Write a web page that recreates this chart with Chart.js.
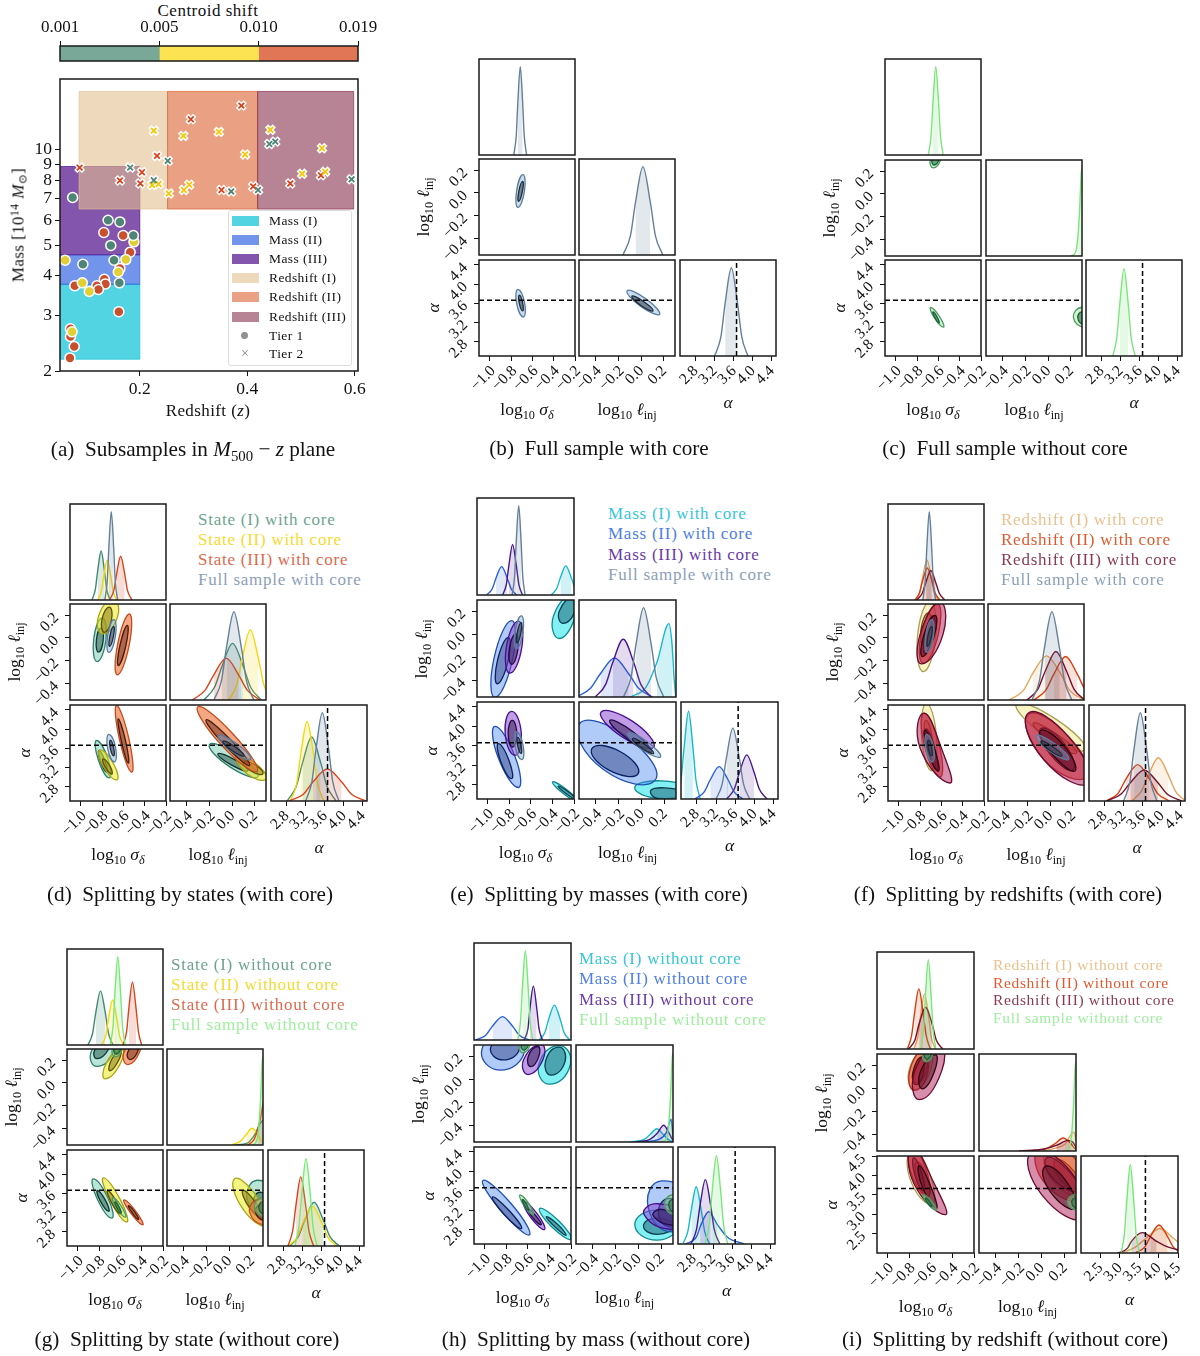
<!DOCTYPE html>
<html>
<head>
<meta charset="utf-8">
<script src="https://cdn.jsdelivr.net/npm/chart.js@4"></script>
<style>
body{margin:0;background:#fff;width:1200px;height:1356px;position:relative;overflow:hidden;font-family:'Liberation Serif','DejaVu Serif',serif;color:#111}
canvas{position:absolute}
.t{position:absolute;white-space:nowrap;line-height:1}
.t sub{font-size:70%;vertical-align:-.28em;line-height:0}
.t sup{font-size:70%;vertical-align:.4em;line-height:0}
</style>
</head>
<body>
<script>
// colour bar
var centroidLabels = ['0.001','0.005','0.010','0.019'];
var centroidBins = [[0,1],[1,2],[2,3]];
var centroidColors = ['#7aa898','#fce352','#e07656'];

// subsamples in the M500 - z plane, flat z,M lists
var massTicks = [2,3,4,5,6,7,8,9,10];
var zTicks = [0.2,0.4,0.6];
var bandMass1 = [0.04,0.2,2.18,3.76];
var bandMass2 = [0.04,0.2,3.76,4.66];
var bandMass3 = [0.04,0.2,4.66,8.86];
var bandZ1 = [0.087,0.2516,6.5,15.3];
var bandZ2 = [0.2516,0.4193,6.5,15.3];
var bandZ3 = [0.4193,0.598,6.5,15.3];
var tier1Green = [.075,7.07,.141,5.99,.163,5.92,.188,5.36,.146,4.99,.152,4.48,.094,4.35,.162,3.8];
var tier1Yellow = [.189,5.12,.061,4.48,.174,4.5,.16,4.11,.093,3.8,.106,3.57,.074,2.66];
var tier1Red = [.133,5.48,.169,5.36,.182,4.75,.163,4.22,.134,3.9,.136,3.77,.12,3.72,.079,3.72,.123,3.62,.161,3.08,.071,2.72,.071,2.57,.078,2.39,.07,2.2];
var tier2Green = [.441,10.44,.452,10.62,.252,9.23,.182,8.79,.226,8.02,.594,8.07,.37,7.39,.42,7.47];
var tier2Yellow = [.226,11.5,.347,11.4,.281,11.07,.443,11.57,.396,9.67,.539,10.12,.502,8.4,.545,8.53,.235,7.8,.223,7.74,.292,7.76,.282,7.47,.254,7.28];
var tier2Red = [.389,13.8,.295,12.5,.232,9.57,.088,8.79,.204,8.5,.537,8.31,.163,8,.201,7.83,.48,7.83,.352,7.47,.411,7.66];

// corner axes
var sigTicks = [-1,-.8,-.6,-.4,-.2];
var ellTicks = [-.4,-.2,0,.2];
var alphaTicks = [2.8,3.2,3.6,4,4.4];
var alphaTicksWide = [2.5,3,3.5,4,4.5];
var sigRange = [-1.102,-.2];
var ellRange = [-.547,.297];
var alphaRangeX = [2.47,4.49];
var alphaRangeY = [2.5,4.5];
var alphaRangeWide = [2,4.5];
var alphaTrue = [3.66];

// 1D curves: x,height; contours: four points around the loop (2 = outer, 1 = inner)
var coreFull_sig = [-.775,0,-.752,.2,-.737,.55,-.714,.92,-.692,.55,-.677,.2,-.655,0];
var coreFull_ell = [-.16,0,-.095,.2,-.05,.55,.015,.92,.08,.55,.125,.2,.19,0];
var coreFull_alp = [3.2,0,3.33,.2,3.42,.55,3.55,.92,3.68,.55,3.77,.2,3.9,0];
var coreFull_se2 = [-.689,.159,-.675,.015,-.736,-.129,-.749,.015];
var coreFull_se1 = [-.692,.1,-.694,.012,-.73,-.076,-.728,.012];
var coreFull_sa2 = [-.736,3.887,-.673,3.6,-.686,3.313,-.749,3.6];
var coreFull_sa1 = [-.723,3.77,-.692,3.605,-.692,3.44,-.724,3.605];
var coreFull_ea2 = [-.124,3.859,.041,3.691,.162,3.369,-.006,3.537];
var coreFull_ea1 = [-.082,3.747,.02,3.635,.103,3.439,-.003,3.551];

var coreState1_sig = [-.895,0,-.864,.11,-.841,.31,-.81,.51,-.779,.31,-.757,.11,-.725,0];
var coreState1_ell = [-.25,0,-.157,.13,-.09,.35,.003,.59,.097,.35,.163,.13,.257,0];
var coreState1_alp = [2.81,0,3,.15,3.135,.4,3.325,.667,3.515,.4,3.65,.15,3.84,0];
var coreState1_se2 = [-.8,.174,-.764,-.017,-.847,-.209,-.88,-.017];
var coreState1_se1 = [-.81,.085,-.79,-.02,-.835,-.126,-.854,-.02];
var coreState1_sa2 = [-.852,3.76,-.745,3.37,-.733,2.98,-.838,3.37];
var coreState1_sa1 = [-.83,3.55,-.771,3.325,-.757,3.1,-.815,3.325];
var coreState1_ea2 = [-.2,3.677,.047,3.468,.226,3.01,-.024,3.217];
var coreState1_ea1 = [-.126,3.48,.02,3.363,.138,3.133,-.009,3.252];

var coreState2_sig = [-.84,0,-.808,.09,-.785,.25,-.752,.418,-.719,.25,-.696,.09,-.664,0];
var coreState2_ell = [-.03,0,.04,.16,.089,.44,.159,.73,.229,.44,.278,.16,.35,0];
var coreState2_alp = [2.88,0,3.01,.18,3.1,.5,3.228,.825,3.36,.5,3.45,.18,3.58,0];
var coreState2_se2 = [-.695,.336,-.655,.186,-.796,.035,-.835,.186];
var coreState2_se1 = [-.733,.27,-.712,.16,-.78,.047,-.802,.16];
var coreState2_sa2 = [-.82,3.565,-.687,3.25,-.664,2.94,-.797,3.25];
var coreState2_sa1 = [-.79,3.377,-.725,3.22,-.71,3.063,-.775,3.22];
var coreState2_ea2 = [.035,3.48,.206,3.28,.3,2.96,.129,3.07];
var coreState2_ea1 = [.094,3.31,.197,3.26,.27,3.07,.168,3.12];

var coreState3_sig = [-.73,0,-.69,.1,-.664,.27,-.626,.456,-.588,.27,-.562,.1,-.52,0];
var coreState3_ell = [-.35,0,-.24,.1,-.163,.26,-.053,.436,.057,.26,.134,.1,.244,0];
var coreState3_alp = [2.85,0,3.15,.07,3.355,.2,3.655,.333,3.955,.2,4.165,.07,4.465,0];
var coreState3_se2 = [-.544,.209,-.545,-.06,-.657,-.326,-.655,-.06];
var coreState3_se1 = [-.563,.109,-.577,-.068,-.648,-.244,-.633,-.068];
var coreState3_sa2 = [-.664,4.49,-.548,3.79,-.522,3.1,-.638,3.79];
var coreState3_sa1 = [-.648,4.21,-.58,3.75,-.553,3.29,-.62,3.75];
var coreState3_ea2 = [-.303,4.46,.009,3.89,.218,3.12,-.097,3.67];
var coreState3_ea1 = [-.23,4.19,-.012,3.77,.153,3.24,-.065,3.66];

var coreMass1_sig = [-.41,0,-.36,.07,-.326,.18,-.276,.3,-.226,.18,-.19,.07,-.14,0];
var coreMass1_ell = [-.097,0,.035,.1,.132,.36,.235,.756,.262,.55,.28,.2,.295,0];
var coreMass1_alp = [2.38,0,2.47,.25,2.537,.68,2.627,1.14,2.717,.68,2.78,.25,2.87,0];
var coreMass1_se2 = [-.192,.357,-.185,.16,-.337,-.038,-.39,.16];
var coreMass1_se1 = [-.2,.33,-.19,.2,-.3,.094,-.337,.2];
var coreMass1_sa2 = [-.4,2.853,-.266,2.69,-.161,2.44,-.297,2.607];
var coreMass1_sa1 = [-.347,2.764,-.254,2.648,-.176,2.49,-.272,2.607];
var coreMass1_ea2 = [-.062,2.73,.168,2.874,.43,2.68,.168,2.51];
var coreMass1_ea1 = [.074,2.648,.2,2.73,.37,2.61,.2,2.47];

var coreMass2_sig = [-1.013,0,-.96,.064,-.925,.176,-.873,.293,-.821,.176,-.785,.064,-.733,0];
var coreMass2_ell = [-.57,0,-.447,.09,-.361,.24,-.238,.402,-.115,.24,-.029,.09,.094,0];
var coreMass2_alp = [2.76,0,2.95,.09,3.08,.25,3.264,.42,3.45,.25,3.58,.09,3.76,0];
var coreMass2_se2 = [-.78,.117,-.77,-.216,-.935,-.55,-.945,-.216];
var coreMass2_se1 = [-.811,-.029,-.812,-.231,-.913,-.433,-.912,-.231];
var coreMass2_sa2 = [-.935,3.997,-.747,3.367,-.718,2.737,-.907,3.367];
var coreMass2_sa1 = [-.904,3.64,-.802,3.28,-.78,2.92,-.882,3.28];
var coreMass2_ea2 = [-.544,4.05,-.12,3.76,.115,2.888,-.34,3.12];
var coreMass2_ea1 = [-.435,3.54,-.19,3.48,-.032,3.025,-.29,3.1];

var coreMass3_sig = [-.863,0,-.829,.11,-.805,.31,-.771,.52,-.737,.31,-.713,.11,-.679,0];
var coreMass3_ell = [-.405,0,-.315,.13,-.252,.36,-.162,.595,-.072,.36,-.009,.13,.081,0];
var coreMass3_alp = [3.42,0,3.58,.13,3.685,.34,3.84,.573,3.995,.34,4.1,.13,4.26,0];
var coreMass3_se2 = [-.718,.114,-.685,-.113,-.796,-.34,-.829,-.113];
var coreMass3_se1 = [-.743,0,-.722,-.13,-.78,-.263,-.802,-.13];
var coreMass3_sa2 = [-.78,4.305,-.69,3.85,-.749,3.4,-.84,3.85];
var coreMass3_sa1 = [-.774,4.12,-.732,3.845,-.77,3.57,-.812,3.845];
var coreMass3_ea2 = [-.356,4.29,-.08,4.1,.103,3.57,-.174,3.785];
var coreMass3_ea1 = [-.279,4.12,-.08,3.89,.085,3.47,-.126,3.737];

var coreZ1_sig = [-.84,0,-.8,.09,-.774,.25,-.736,.418,-.698,.25,-.672,.09,-.63,0];
var coreZ1_ell = [-.36,0,-.236,.1,-.152,.28,-.032,.46,.088,.28,.172,.1,.296,0];
var coreZ1_alp = [3.37,0,3.57,.1,3.72,.27,3.93,.45,4.14,.27,4.29,.1,4.5,0];
var coreZ1_se2 = [-.708,.32,-.655,.01,-.77,-.297,-.825,.01];
var coreZ1_se1 = [-.723,.218,-.693,.07,-.764,-.076,-.793,.07];
var coreZ1_sa2 = [-.74,4.53,-.646,3.83,-.692,3.13,-.786,3.83];
var coreZ1_sa1 = [-.745,4.18,-.683,3.76,-.692,3.34,-.753,3.76];
var coreZ1_ea2 = [-.297,4.52,.053,4.2,.306,3.57,-.047,3.87];
var coreZ1_ea1 = [-.15,4.12,.065,3.88,.232,3.5,.018,3.71];

var coreZ2_sig = [-.85,0,-.808,.07,-.777,.2,-.733,.334,-.689,.2,-.658,.07,-.614,0];
var coreZ2_ell = [-.145,0,-.04,.1,.032,.27,.135,.453,.238,.27,.31,.1,.415,0];
var coreZ2_alp = [2.83,0,3.08,.08,3.25,.23,3.495,.379,3.74,.23,3.91,.08,4.16,0];
var coreZ2_se2 = [-.64,.3,-.628,.035,-.77,-.224,-.788,.035];
var coreZ2_se1 = [-.676,.194,-.675,.027,-.755,-.141,-.755,.027];
var coreZ2_sa2 = [-.764,4.33,-.62,3.66,-.613,3,-.76,3.66];
var coreZ2_sa1 = [-.745,4,-.66,3.58,-.645,3.15,-.73,3.58];
var coreZ2_ea2 = [-.194,4.3,.162,3.84,.32,3,-.05,3.35];
var coreZ2_ea1 = [-.085,4,.112,3.73,.203,3.15,0,3.47];

var coreZ3_sig = [-.83,0,-.78,.07,-.747,.18,-.7,.307,-.653,.18,-.62,.07,-.57,0];
var coreZ3_ell = [-.205,0,-.11,.11,-.044,.3,.05,.505,.144,.3,.21,.11,.305,0];
var coreZ3_alp = [2.84,0,3.14,.07,3.34,.19,3.63,.323,3.92,.19,4.12,.07,4.42,0];
var coreZ3_se2 = [-.613,.31,-.585,.03,-.786,-.23,-.8,.03];
var coreZ3_se1 = [-.66,.197,-.668,.016,-.777,-.165,-.768,.016];
var coreZ3_sa2 = [-.764,4.33,-.6,3.6,-.52,2.875,-.8,3.6];
var coreZ3_sa1 = [-.755,3.97,-.658,3.54,-.63,3.12,-.728,3.54];
var coreZ3_ea2 = [-.194,4.33,.168,3.82,.33,2.87,-.056,3.36];
var coreZ3_ea1 = [-.085,3.97,.115,3.67,.218,3.13,.015,3.48];

var noFull_sig = [-.695,0,-.669,.2,-.651,.55,-.625,.92,-.599,.55,-.581,.2,-.555,0];
var noFull_ell = [.2,0,.24,.04,.258,.16,.275,.46,.29,.86,.297,.92,.32,1.2];
var noFull_alp = [3.035,0,3.12,.2,3.183,.55,3.27,.91,3.357,.55,3.418,.2,3.505,0];
var noFull_se2 = [-.6,.37,-.58,.3,-.648,.228,-.675,.3];
var noFull_se1 = [-.608,.34,-.595,.3,-.64,.253,-.66,.3];
var noFull_sa2 = [-.673,3.51,-.585,3.305,-.553,3.1,-.641,3.305];
var noFull_sa1 = [-.651,3.418,-.61,3.303,-.594,3.188,-.634,3.303];
var noFull_ea2 = [.295,3.51,.37,3.3,.32,3.1,.222,3.3];
var noFull_ea1 = [.297,3.42,.34,3.29,.31,3.16,.26,3.3];

var noState1_sig = [-.905,0,-.862,.12,-.831,.34,-.787,.564,-.743,.34,-.712,.12,-.67,0];
var noState1_ell = [.05,0,.16,.02,.22,.1,.27,.22,.3,.26,.31,.26,.36,.1];
var noState1_alp = [2.93,0,3.11,.1,3.245,.27,3.44,.456,3.635,.27,3.77,.1,3.97,0];
var noState1_se2 = [-.713,.4,-.665,.27,-.822,.144,-.875,.27];
var noState1_se1 = [-.73,.365,-.715,.29,-.822,.212,-.84,.29];
var noState1_sa2 = [-.855,3.9,-.715,3.49,-.68,3.08,-.82,3.49];
var noState1_sa1 = [-.817,3.656,-.738,3.44,-.71,3.22,-.79,3.44];
var noState1_ea2 = [.25,3.87,.44,3.45,.35,3.05,.16,3.45];
var noState1_ea1 = [.27,3.62,.37,3.4,.33,3.15,.22,3.4];

var noState2_sig = [-.775,0,-.737,.1,-.711,.28,-.673,.47,-.635,.28,-.609,.1,-.57,0];
var noState2_ell = [.02,0,.1,.04,.15,.11,.2,.174,.25,.11,.285,.04,.34,0];
var noState2_alp = [2.9,0,3.08,.09,3.215,.25,3.405,.414,3.595,.25,3.73,.09,3.91,0];
var noState2_se2 = [-.59,.31,-.6,.17,-.745,.035,-.735,.17];
var noState2_se1 = [-.6,.29,-.615,.2,-.7,.106,-.685,.2];
var noState2_sa2 = [-.76,3.92,-.6,3.46,-.54,3,-.7,3.46];
var noState2_sa1 = [-.72,3.656,-.635,3.41,-.6,3.17,-.685,3.41];
var noState2_ea2 = [.047,3.9,.253,3.5,.326,2.93,.118,3.28];
var noState2_ea1 = [.12,3.656,.238,3.39,.297,3.07,.18,3.29];

var noState3_sig = [-.575,0,-.542,.14,-.52,.39,-.487,.655,-.454,.39,-.431,.14,-.4,0];
var noState3_ell = [.16,0,.215,.05,.25,.16,.275,.28,.291,.39,.31,.5,.34,.7];
var noState3_alp = [2.89,0,2.99,.16,3.06,.43,3.16,.72,3.26,.43,3.33,.16,3.43,0];
var noState3_se2 = [-.43,.38,-.42,.27,-.53,.16,-.566,.27];
var noState3_se1 = [-.44,.35,-.44,.27,-.51,.203,-.53,.27];
var noState3_sa2 = [-.566,3.46,-.448,3.2,-.39,2.94,-.508,3.2];
var noState3_sa1 = [-.525,3.34,-.463,3.2,-.43,3.05,-.493,3.2];
var noState3_ea2 = [.268,3.47,.43,3.2,.33,2.94,.18,3.2];
var noState3_ea1 = [.28,3.36,.38,3.2,.32,3.03,.232,3.2];

var noMass1_sig = [-.495,0,-.442,.08,-.406,.22,-.354,.36,-.302,.22,-.266,.08,-.213,0];
var noMass1_ell = [-.08,0,.05,.03,.1,.08,.156,.137,.21,.08,.25,.03,.3,0];
var noMass1_alp = [2.57,0,2.675,.13,2.747,.35,2.85,.59,2.953,.35,3.025,.13,3.13,0];
var noMass1_se2 = [-.308,.292,-.206,.125,-.4,-.044,-.5,.125];
var noMass1_se1 = [-.31,.278,-.255,.156,-.385,.035,-.437,.156];
var noMass1_sa2 = [-.492,3.23,-.317,2.985,-.2,2.6,-.378,2.85];
var noMass1_sa1 = [-.43,3.06,-.323,2.9,-.246,2.68,-.348,2.85];
var noMass1_ea2 = [.156,3.2,.34,2.9,.156,2.58,-.035,2.9];
var noMass1_ea1 = [.16,3.04,.3,2.87,.16,2.7,.04,2.87];

var noMass2_sig = [-1.085,0,-.993,.05,-.929,.145,-.837,.241,-.745,.145,-.681,.05,-.589,0];
var noMass2_ell = [.02,0,.18,.03,.24,.1,.28,.234,.29,.15,.3,.03,.31,0];
var noMass2_alp = [2.62,0,2.85,.07,2.95,.2,3.11,.332,3.29,.2,3.5,.07,3.85,0];
var noMass2_se2 = [-.79,.42,-.63,.25,-.862,.079,-1.03,.25];
var noMass2_se1 = [-.78,.37,-.677,.27,-.83,.167,-.948,.27];
var noMass2_sa2 = [-1.02,3.81,-.76,3.34,-.585,2.69,-.846,3.175];
var noMass2_sa1 = [-.93,3.47,-.78,3.2,-.66,2.82,-.82,3.1];
var noMass2_ea2 = [.2,3.8,.5,3.3,.3,2.75,.082,3.25];
var noMass2_ea1 = [.27,3.44,.42,3.15,.28,2.85,.17,3.15];

var noMass3_sig = [-.635,0,-.6,.12,-.581,.33,-.55,.555,-.519,.33,-.498,.12,-.465,0];
var noMass3_ell = [-.03,0,.1,.03,.16,.09,.215,.172,.26,.1,.29,.03,.33,0];
var noMass3_alp = [2.74,0,2.855,.15,2.93,.4,3.04,.664,3.15,.4,3.225,.15,3.34,0];
var noMass3_se2 = [-.477,.3,-.46,.17,-.6,.04,-.64,.17];
var noMass3_se1 = [-.508,.284,-.5,.196,-.575,.108,-.598,.196];
var noMass3_sa2 = [-.64,3.37,-.517,3.13,-.446,2.8,-.572,3.04];
var noMass3_sa1 = [-.6,3.23,-.53,3.09,-.477,2.9,-.557,3.045];
var noMass3_ea2 = [.16,3.33,.46,3.05,.3,2.8,.047,3.1];
var noMass3_ea1 = [.2,3.215,.4,3,.3,2.885,.126,3.08];

var noZ1_sig = [-.76,0,-.723,.12,-.697,.34,-.66,.568,-.623,.34,-.597,.12,-.56,0];
var noZ1_ell = [0,0,.12,.03,.2,.07,.278,.195,.29,.16,.3,.1,.32,0];
var noZ1_alp = [3.05,0,3.4,.06,3.67,.15,4.03,.253,4.39,.15,4.66,.06,5,0];
var noZ1_se2 = [-.63,.35,-.6,.17,-.753,-.012,-.8,.17];
var noZ1_se1 = [-.66,.27,-.645,.14,-.74,.05,-.76,.14];
var noZ1_sa2 = [-.77,4.65,-.6,3.95,-.6,3.25,-.8,3.95];
var noZ1_sa1 = [-.73,4.35,-.63,3.9,-.63,3.45,-.73,3.9];
var noZ1_ea2 = [.05,4.65,.33,4.3,.4,3.45,.1,3.85];
var noZ1_ea1 = [.12,4.4,.28,4.1,.34,3.55,.16,3.9];

var noZ2_sig = [-.82,0,-.78,.14,-.753,.37,-.713,.62,-.673,.37,-.645,.14,-.605,0];
var noZ2_ell = [-.1,0,.05,.03,.12,.08,.184,.134,.25,.08,.29,.02,.32,0];
var noZ2_alp = [3.4,0,3.64,.06,3.79,.17,4.01,.288,4.23,.17,4.38,.06,4.6,0];
var noZ2_se2 = [-.67,.33,-.63,.14,-.753,-.02,-.8,.14];
var noZ2_se1 = [-.69,.27,-.67,.13,-.74,.03,-.77,.13];
var noZ2_sa2 = [-.785,4.75,-.64,4.1,-.63,3.45,-.79,4.1];
var noZ2_sa1 = [-.76,4.45,-.68,4,-.67,3.6,-.75,4];
var noZ2_ea2 = [-.02,4.75,.3,4.4,.38,3.4,.04,3.75];
var noZ2_ea1 = [.04,4.45,.22,4.15,.32,3.6,.1,3.9];

var noZ3_sig = [-.81,0,-.75,.09,-.71,.26,-.65,.43,-.59,.26,-.55,.09,-.49,0];
var noZ3_ell = [-.2,0,.02,.02,.13,.06,.228,.11,.27,.09,.3,.03,.32,0];
var noZ3_alp = [2.95,0,3.2,.05,3.3,.12,3.58,.21,3.95,.12,4.25,.06,4.7,.02];
var noZ3_se2 = [-.52,.38,-.5,.15,-.707,-.1,-.75,.15];
var noZ3_se1 = [-.56,.29,-.57,.14,-.68,-.006,-.7,.14];
var noZ3_sa2 = [-.77,4.75,-.58,3.85,-.465,2.99,-.76,3.8];
var noZ3_sa1 = [-.71,4.25,-.6,3.7,-.55,3.15,-.68,3.7];
var noZ3_ea2 = [-.09,4.6,.25,4.1,.36,2.9,0,3.5];
var noZ3_ea1 = [.023,4.22,.2,3.9,.29,3.15,.08,3.55];

// line, shade, outer fill, outer edge, inner fill, inner edge
var styles = {
  coreFull:['#64809c','rgba(100,128,156,.18)','rgba(120,170,215,.4)','#5b7da0','rgba(50,60,75,.55)','#1e2a38'],
  noFull:['#78e878','rgba(120,232,120,.2)','rgba(150,230,150,.45)','#4e9a62','rgba(60,130,80,.7)','#17603a'],
  State1:['#3f8a73','rgba(63,138,115,.18)','rgba(80,190,160,.4)','#2f7f6a','rgba(30,80,70,.5)','#12352e'],
  State2:['#f5d60a','rgba(245,214,10,.18)','rgba(235,235,30,.55)','#aaa414','rgba(140,120,20,.55)','#5f5208'],
  State3:['#d9431c','rgba(217,67,28,.18)','rgba(235,110,50,.6)','#c44a1f','rgba(120,50,30,.55)','#4a1a0c'],
  Mass1:['#16b8cf','rgba(22,184,207,.2)','rgba(30,230,235,.55)','#108a90','rgba(20,90,110,.5)','#0b3f4e'],
  Mass2:['#2a5fdc','rgba(42,95,220,.15)','rgba(70,130,240,.42)','#1f4fb0','rgba(35,50,120,.45)','#0b2060'],
  Mass3:['#4a168f','rgba(74,22,143,.15)','rgba(130,60,205,.5)','#47108c','rgba(55,30,90,.55)','#240a48'],
  Z1:['#e5a65c','rgba(229,166,92,.15)','rgba(235,225,110,.4)','#a8a050','rgba(170,110,30,.45)','#6a4a10'],
  Z2:['#da3c0c','rgba(218,60,12,.15)','rgba(225,50,30,.55)','#b83020','rgba(120,20,15,.5)','#4a100a'],
  Z3:['#74102f','rgba(116,16,47,.18)','rgba(175,30,85,.5)','#6a0a30','rgba(90,15,40,.55)','#30040f']
};
var FONT = "'Liberation Serif','DejaVu Serif',serif";

Chart.register({
  id:'closeLoops',
  afterDatasetsUpdate:function(chart){
    chart.data.datasets.forEach(function(d,i){
      if(!d.closed) return;
      var el = chart.getDatasetMeta(i).dataset;
      el._loop = true; el._fullLoop = true; el._pointsUpdated = false; el._segments = undefined;
    });
  }
});
// corner.py style: rotated labels centred under the tick instead of hanging off it
Chart.register({
  id:'slantLabels',
  beforeDraw:function(chart){
    var area = chart.chartArea, ctx = chart.ctx;
    Object.values(chart.scales).forEach(function(s){
      if(!s.options.display || !s.labelRotation) return;
      s.getLabelItems().forEach(function(it){
        ctx.font = it.font.string;
        var bb = (ctx.measureText(it.label).width+10)*0.707;
        it.textOffset = 0;
        it.options.textAlign = 'center';
        it.options.textBaseline = 'middle';
        if(s.isHorizontal()) it.options.translation = [it.options.translation[0], area.bottom+9+bb/2];
        else it.options.translation = [area.left-10-bb/2, it.options.translation[1]-3+bb/2];
      });
    });
  }
});
Chart.register({
  id:'frame',
  afterDraw:function(chart){
    var a = chart.chartArea, c = chart.ctx;
    c.save(); c.strokeStyle='#1a1a1a'; c.lineWidth=1.5;
    c.strokeRect(a.left,a.top,a.right-a.left,a.bottom-a.top);
    c.restore();
  }
});

function pts(f){ var o=[]; for(var i=0;i<f.length;i+=2) o.push({x:f[i],y:f[i+1]}); return o; }
function label(html,x,y,size,o){
  o = o||{};
  var e = document.createElement('div');
  e.className='t'; e.innerHTML=html;
  e.style.left=x+'px'; e.style.top=y+'px'; e.style.fontSize=size+'px';
  if(o.color) e.style.color=o.color;
  if(o.sp) e.style.letterSpacing=o.sp+'px';
  e.style.transform = o.left ? 'translateY(-50%)' : 'translate(-50%,-50%)'+(o.rot?' rotate(-90deg)':'');
  document.body.appendChild(e);
}
function canvasAt(l,t,w,h){
  var c = document.createElement('canvas');
  c.width=w; c.height=h; c.style.left=l+'px'; c.style.top=t+'px';
  document.body.appendChild(c);
  return c.getContext('2d');
}
function zeroPad(s){ s.paddingLeft=s.paddingRight=s.paddingTop=s.paddingBottom=0; }
function fmt(v){ return v.toFixed(1).replace('-','\u2212'); }
function linearAxis(range,ticks,show,pos){
  return {
    type:'linear', position:pos, display:show, min:range[0], max:range[1],
    afterBuildTicks:function(s){ s.ticks = ticks.map(function(v){return {value:v};}); },
    // hidden axes keep this size too, so every panel has the same plot area
    afterFit:function(s){
      if(pos==='bottom') s.height=48; else s.width=45;
      zeroPad(s);
    },
    grid:{drawOnChartArea:false,tickLength:5,tickColor:'#111',tickWidth:1},
    border:{display:false},
    ticks:{color:'#111',font:{family:FONT,size:15.5},minRotation:45,maxRotation:45,autoSkip:false,callback:fmt}
  };
}
function kde(name,key){
  var st = styles[name.replace(/^(core|no)(?=State|Mass|Z)/,'')];
  var f = window[name+'_'+key];
  return [
    {data:pts(f).slice(2,5),borderWidth:0,fill:'origin',backgroundColor:st[1],pointRadius:0,cubicInterpolationMode:'monotone',capBezierPoints:false},
    {data:pts(f),borderColor:st[0],borderWidth:1.4,fill:false,pointRadius:0,cubicInterpolationMode:'monotone',capBezierPoints:false}
  ];
}
function contour(name,key){
  var st = styles[name.replace(/^(core|no)(?=State|Mass|Z)/,'')];
  var base = {closed:true,spanGaps:true,tension:.55,capBezierPoints:false,fill:'shape',borderWidth:1.3,pointRadius:0};
  return [
    Object.assign({data:pts(window[name+'_'+key+'2']),backgroundColor:st[2],borderColor:st[3]},base),
    Object.assign({data:pts(window[name+'_'+key+'1']),backgroundColor:st[4],borderColor:st[5]},base)
  ];
}
function dashLine(a){
  return {data:a,borderColor:'#000',borderWidth:1.5,borderDash:[5,3],fill:false,pointRadius:0};
}
function panel(x,y,size,xr,xt,showX,yr,yt,showY,sets){
  sets.forEach(function(d,i){ d.order=-i; });
  var left = 45, bottom = 48, right = 24;
  var ctx = canvasAt(x-left,y-2,left+size+right,2+size+bottom);
  new Chart(ctx,{
    type:'line',
    data:{datasets:sets},
    options:{
      responsive:false,animation:false,events:[],
      layout:{autoPadding:false,padding:{top:2,right:right,left:0,bottom:0}},
      plugins:{legend:{display:false},tooltip:{enabled:false}},
      scales:{x:linearAxis(xr,xt,showX,'bottom'),y:linearAxis(yr,yt,showY,'left')}
    }
  });
}
function corner(x0,y0,pitch,size,names,o){
  o = o||{};
  var ar = o.wide?alphaRangeWide:alphaRangeX, ay = o.wide?alphaRangeWide:alphaRangeY, at = o.wide?alphaTicksWide:alphaTicks;
  var X = [0,1,2].map(function(i){return Math.round(x0+pitch*i);});
  var Y = [0,1,2].map(function(i){return Math.round(y0+pitch*i);});
  function many(fn,key){ return names.reduce(function(a,n){return a.concat(fn(n,key));},[]); }
  var h1 = [0,1], h3 = [0,o.alphaTop||1];
  panel(X[0],Y[0],size,sigRange,sigTicks,false,h1,[],false,many(kde,'sig'));
  panel(X[0],Y[1],size,sigRange,sigTicks,false,ellRange,ellTicks,true,many(contour,'se'));
  panel(X[1],Y[1],size,ellRange,ellTicks,false,h1,[],false,many(kde,'ell'));
  panel(X[0],Y[2],size,sigRange,sigTicks,true,ay,at,true,many(contour,'sa').concat(dashLine([{x:sigRange[0],y:alphaTrue[0]},{x:sigRange[1],y:alphaTrue[0]}])));
  panel(X[1],Y[2],size,ellRange,ellTicks,true,ay,at,false,many(contour,'ea').concat(dashLine([{x:ellRange[0],y:alphaTrue[0]},{x:ellRange[1],y:alphaTrue[0]}])));
  panel(X[2],Y[2],size,ar,at,true,h3,[],false,many(kde,'alp').concat(dashLine([{x:alphaTrue[0],y:h3[0]},{x:alphaTrue[0],y:h3[1]}])));
  var b = Y[2]+size;
  label('log<sub>10</sub> <i>\u03c3<sub>\u03b4</sub></i>',X[0]+size/2,b+54,17.5);
  label('log<sub>10</sub> <i>\u2113</i><sub>inj</sub>',X[1]+size/2,b+54,17.5);
  label('<i>\u03b1</i>',X[2]+size/2,b+47,17.5);
  label('log<sub>10</sub> <i>\u2113</i><sub>inj</sub>',X[0]-55,Y[1]+size/2,17.5,{rot:1});
  label('<i>\u03b1</i>',X[0]-45,Y[2]+size/2,17.5,{rot:1});
}
function legendLines(x,y,dy,size,sp,rows){
  rows.forEach(function(r,i){ label(r[0],x,y+dy*i,size,{left:1,color:r[1],sp:sp}); });
}

// ---- colour bar ----
new Chart(canvasAt(0,20,380,50),{
  type:'bar',
  data:{labels:[''],datasets:centroidBins.map(function(b,i){return {data:[b],backgroundColor:centroidColors[i],barPercentage:1,categoryPercentage:1,grouped:false};})},
  options:{
    indexAxis:'y',responsive:false,animation:false,events:[],
    layout:{autoPadding:false,padding:{left:60,right:22,bottom:9}},
    plugins:{legend:{display:false},tooltip:{enabled:false}},
    scales:{
      y:{display:false},
      x:{type:'linear',position:'top',min:0,max:3,
        afterBuildTicks:function(s){s.ticks=[0,1,2,3].map(function(v){return {value:v};});},
        afterFit:function(s){s.height=26;zeroPad(s);},
        grid:{drawOnChartArea:false,tickLength:5,tickColor:'#111'},border:{display:false},
        ticks:{color:'#111',padding:3,maxRotation:0,font:{family:FONT,size:17},callback:function(v){return centroidLabels[v];}}}
    }
  }
});
label('Centroid shift',208,10,17,{sp:.5});

// ---- subsample plane ----
function band(b,fill,edge){
  var c = [{x:b[0],y:b[2]},{x:b[1],y:b[2]},{x:b[1],y:b[3]},{x:b[0],y:b[3]}];
  return {data:c,closed:true,spanGaps:true,tension:0,fill:'shape',backgroundColor:fill,borderColor:edge,borderWidth:1,pointRadius:0,showLine:true};
}
function dots(f,c){ return {data:pts(f),showLine:false,pointStyle:'circle',pointRadius:5,pointBackgroundColor:c,pointBorderColor:'#fff',pointBorderWidth:1.5}; }
function cross(f,c,w,r){ return {data:pts(f),showLine:false,pointStyle:'crossRot',pointRadius:r,pointBorderColor:c,pointBorderWidth:w}; }
var planeSets = [
  band(bandMass1,'rgba(26,197,218,.75)','rgba(26,197,218,.75)'),
  band(bandMass2,'rgba(40,90,225,.65)','rgba(40,90,225,.65)'),
  band(bandMass3,'rgba(85,20,140,.72)','rgba(85,20,140,.72)'),
  band(bandZ1,'rgba(228,192,143,.6)','rgba(228,192,143,.6)'),
  band(bandZ2,'rgba(220,97,48,.6)','rgba(220,97,48,.7)'),
  band(bandZ3,'rgba(135,50,80,.6)','rgba(135,50,80,.7)'),
  dots(tier1Red,'#c9502f'),dots(tier1Yellow,'#e2cf33'),dots(tier1Green,'#4f8577'),
  cross(tier2Red,'#fff',4.5,5.5),cross(tier2Yellow,'#fff',4.5,5.5),cross(tier2Green,'#fff',4.5,5.5),
  cross(tier2Red,'#d8431c',1.8,4),cross(tier2Yellow,'#f5c90a',1.8,4),cross(tier2Green,'#4f8577',1.8,4)
];
planeSets.forEach(function(d,i){ d.order=-i; });
new Chart(canvasAt(0,75,380,330),{
  type:'line',
  data:{datasets:planeSets},
  options:{
    responsive:false,animation:false,events:[],
    layout:{autoPadding:false,padding:{top:4,right:22}},
    plugins:{legend:{display:false},tooltip:{enabled:false}},
    scales:{
      x:{type:'linear',min:0.0515,max:0.606,
        afterBuildTicks:function(s){s.ticks=zTicks.map(function(v){return {value:v};});},
        afterFit:function(s){s.height=34;zeroPad(s);},
        grid:{drawOnChartArea:false,tickLength:5,tickColor:'#111'},border:{display:false},
        ticks:{color:'#111',maxRotation:0,padding:3,font:{family:FONT,size:17.5},callback:function(v){return v.toFixed(1);}}},
      y:{type:'logarithmic',min:2,max:16.75,
        afterBuildTicks:function(s){s.ticks=massTicks.map(function(v){return {value:v};});},
        afterFit:function(s){s.width=60;zeroPad(s);},
        grid:{drawOnChartArea:false,tickLength:5,tickColor:'#111'},border:{display:false},
        ticks:{color:'#111',padding:3,autoSkip:false,font:{family:FONT,size:17.5},callback:function(v){return String(v);}}}
    }
  }
});
label('Mass [10<sup>14</sup> <i>M</i><sub>\u2299</sub>]',18,225,17,{rot:1,sp:.4});
label('Redshift (<i>z</i>)',208,410,17,{sp:.4});

// legend box of the plane
var planeLegend = [['Mass (I)','rgba(26,197,218,.75)'],['Mass (II)','rgba(40,90,225,.65)'],['Mass (III)','rgba(85,20,140,.72)'],['Redshift (I)','rgba(228,192,143,.6)'],['Redshift (II)','rgba(220,97,48,.6)'],['Redshift (III)','rgba(135,50,80,.6)']];
(function(){
  var box = document.createElement('div');
  box.style.cssText='position:absolute;left:228px;top:210px;width:122px;height:154px;background:rgba(255,255,255,.85);border:1px solid #ddd;border-radius:3px';
  document.body.appendChild(box);
  planeLegend.forEach(function(r,i){
    var y = 221+19.1*i;
    var s = document.createElement('div');
    s.style.cssText='position:absolute;left:232px;width:27px;height:10px;top:'+(y-5)+'px;background:'+r[1];
    document.body.appendChild(s);
    label(r[0],269,y,13.5,{left:1,sp:.4});
  });
  var m = document.createElement('div');
  m.style.cssText='position:absolute;left:241px;top:332px;width:7px;height:7px;border-radius:50%;background:#909090';
  document.body.appendChild(m);
  label('\u00d7',245,354,14,{color:'#808080'});
  label('Tier 1',269,336,13.5,{left:1,sp:.4});
  label('Tier 2',269,354,13.5,{left:1,sp:.4});
})();

// ---- corner plots ----
corner(479,59,100.4,96,['coreFull']);
corner(885,59,100.5,96,['noFull']);
corner(70,504,100.4,96,['coreState1','coreState2','coreState3','coreFull']);
corner(477,498,102.1,97,['coreMass1','coreMass2','coreMass3','coreFull'],{alphaTop:1.26});
corner(888,504,100.3,96,['coreZ1','coreZ2','coreZ3','coreFull']);
corner(67,949,100.4,96,['noState1','noState2','noState3','noFull']);
corner(474,943,102.1,97,['noMass1','noMass2','noMass3','noFull']);
corner(877,951.5,102.1,97,['noZ1','noZ2','noZ3','noFull'],{wide:true});

legendLines(198,519,20,17,.75,[['State (I) with core','#6ea392'],['State (II) with core','#f5da30'],['State (III) with core','#dd6a4c'],['Full sample with core','#8ba0b8']]);
legendLines(608,513,20.3,17,.75,[['Mass (I) with core','#35c6d8'],['Mass (II) with core','#4f7ee4'],['Mass (III) with core','#6a3aa8'],['Full sample with core','#8ba0b8']]);
legendLines(1001,519,20,17,.75,[['Redshift (I) with core','#ecc08c'],['Redshift (II) with core','#e05a30'],['Redshift (III) with core','#8a3a55'],['Full sample with core','#8ba0b8']]);
legendLines(171,964,20,17,.75,[['State (I) without core','#6ea392'],['State (II) without core','#f5da30'],['State (III) without core','#dd6a4c'],['Full sample without core','#9cf09c']]);
legendLines(579,958,20.3,17,.75,[['Mass (I) without core','#35c6d8'],['Mass (II) without core','#4f7ee4'],['Mass (III) without core','#6a3aa8'],['Full sample without core','#9cf09c']]);
legendLines(993,965,17.6,15.5,.65,[['Redshift (I) without core','#ecc08c'],['Redshift (II) without core','#e05a30'],['Redshift (III) without core','#8a3a55'],['Full sample without core','#9cf09c']]);

// ---- captions ----
label('(a)&nbsp; Subsamples in <i>M</i><sub>500</sub> \u2212 <i>z</i> plane',193,450,21.2);
label('(b)&nbsp; Full sample with core',599,449,21.2);
label('(c)&nbsp; Full sample without core',1005,449,21.2);
label('(d)&nbsp; Splitting by states (with core)',190,895,21.2);
label('(e)&nbsp; Splitting by masses (with core)',599,895,21.2);
label('(f)&nbsp; Splitting by redshifts (with core)',1008,895,21.2);
label('(g)&nbsp; Splitting by state (without core)',187,1340,21.2);
label('(h)&nbsp; Splitting by mass (without core)',596,1340,21.2);
label('(i)&nbsp; Splitting by redshift (without core)',1005,1340,21.2);
</script>
</body>
</html>
